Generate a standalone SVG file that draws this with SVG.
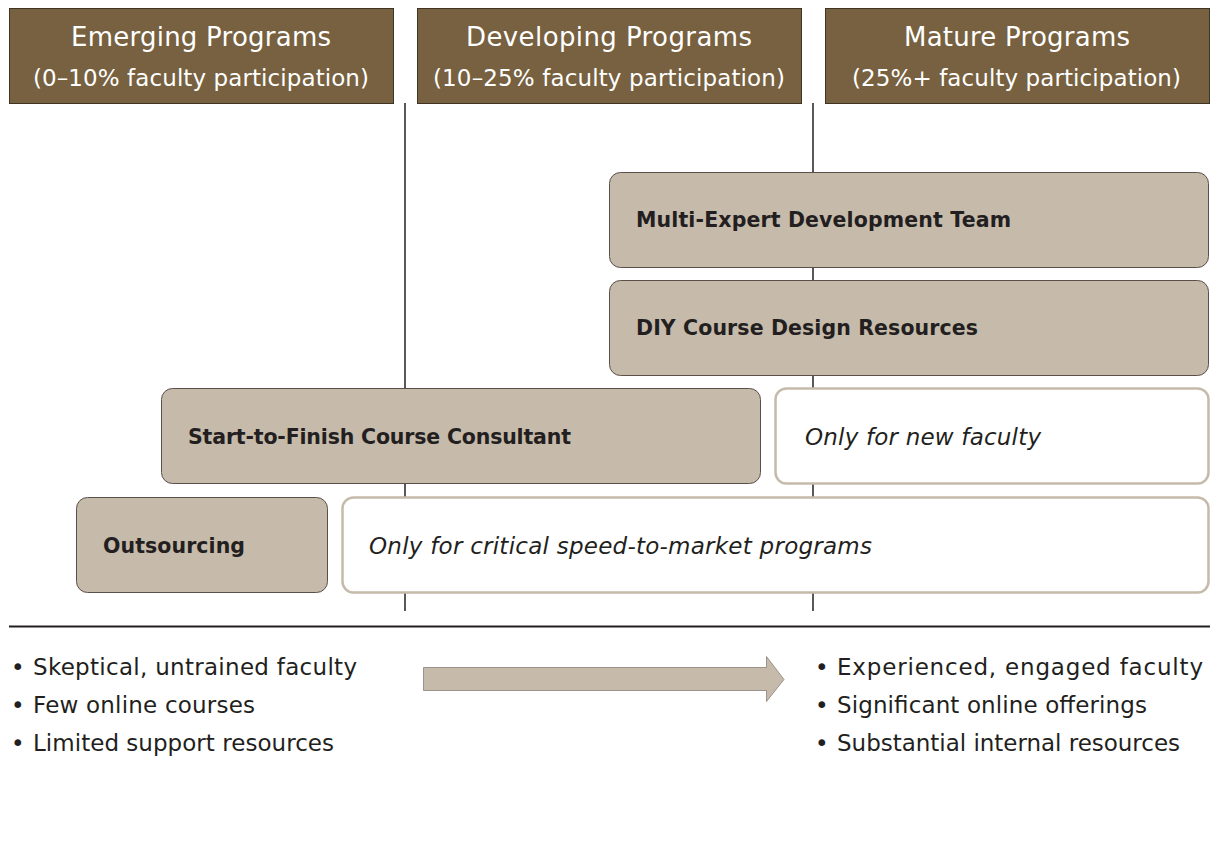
<svg xmlns="http://www.w3.org/2000/svg" width="1212" height="850" viewBox="0 0 1212 850">
<style>
.hdr{fill:#776140;stroke:#3f3322;stroke-width:1}
.ht{font-family:"DejaVu Sans",sans-serif;fill:#fff}
.t1{font-size:26px}
.t2{font-size:23px}
.node{fill:#c6baab;stroke:#5a5048;stroke-width:1}
.note{fill:#fff;stroke:#c6baab;stroke-width:2.5}
.nt{font-family:"DejaVu Sans",sans-serif;font-size:20.5px;font-weight:bold;fill:#231f20}
.it{font-family:"DejaVu Sans",sans-serif;font-size:23px;font-style:italic;fill:#231f20}
.bl{font-family:"DejaVu Sans",sans-serif;font-size:23px;fill:#231f20}
.vl{stroke:#231f20;stroke-width:1.5}
</style>
<rect width="1212" height="850" fill="#fff"/>
<g id="connectors">
<line class="vl" x1="405" y1="103" x2="405" y2="611"/>
<line class="vl" x1="813" y1="103" x2="813" y2="611"/>
<line x1="9" y1="626.5" x2="1210" y2="626.5" stroke="#231f20" stroke-width="2"/>
<path d="M423.5 667.5 H766.5 V656.5 L784 679.5 L766.5 701.5 V690.5 H423.5 Z" fill="#c6baab" stroke="#8a8078" stroke-width="0.8"/>
</g>
<g id="h-emerging">
<rect class="hdr" x="9.5" y="8.5" width="384" height="95"/>
<text class="ht t1" x="71" y="46" textLength="260" lengthAdjust="spacing">Emerging Programs</text>
<text class="ht t2" x="33" y="86" textLength="336" lengthAdjust="spacing">(0–10% faculty participation)</text>
</g>
<g id="h-developing">
<rect class="hdr" x="417.5" y="8.5" width="384" height="95"/>
<text class="ht t1" x="466" y="46" textLength="286" lengthAdjust="spacing">Developing Programs</text>
<text class="ht t2" x="433" y="86" textLength="352" lengthAdjust="spacing">(10–25% faculty participation)</text>
</g>
<g id="h-mature">
<rect class="hdr" x="825.5" y="8.5" width="384" height="95"/>
<text class="ht t1" x="904" y="46" textLength="226" lengthAdjust="spacing">Mature Programs</text>
<text class="ht t2" x="852" y="86" textLength="329" lengthAdjust="spacing">(25%+ faculty participation)</text>
</g>
<g id="n-multi">
<rect class="node" x="609.5" y="172.5" width="599" height="95" rx="11"/>
<text class="nt" x="636" y="227" textLength="375" lengthAdjust="spacing">Multi-Expert Development Team</text>
</g>
<g id="n-diy">
<rect class="node" x="609.5" y="280.5" width="599" height="95" rx="11"/>
<text class="nt" x="636" y="335" textLength="342" lengthAdjust="spacing">DIY Course Design Resources</text>
</g>
<g id="n-start">
<rect class="node" x="161.5" y="388.5" width="599" height="95" rx="11"/>
<text class="nt" x="188" y="444" textLength="383" lengthAdjust="spacing">Start-to-Finish Course Consultant</text>
</g>
<g id="n-newfac">
<rect class="note" x="775.5" y="388.5" width="433" height="95" rx="11"/>
<text class="it" x="805" y="445" textLength="236" lengthAdjust="spacing">Only for new faculty</text>
</g>
<g id="n-outsourcing">
<rect class="node" x="76.5" y="497.5" width="251" height="95" rx="11"/>
<text class="nt" x="103" y="553" textLength="142" lengthAdjust="spacing">Outsourcing</text>
</g>
<g id="n-critical">
<rect class="note" x="342.5" y="497.5" width="866" height="95" rx="11"/>
<text class="it" x="369" y="554" textLength="503" lengthAdjust="spacing">Only for critical speed-to-market programs</text>
</g>
<g id="bullets-left">
<text class="bl" x="11" y="675">•</text>
<text class="bl" x="33" y="675" textLength="324" lengthAdjust="spacing">Skeptical, untrained faculty</text>
<text class="bl" x="11" y="713">•</text>
<text class="bl" x="33" y="713" textLength="222" lengthAdjust="spacing">Few online courses</text>
<text class="bl" x="11" y="751">•</text>
<text class="bl" x="33" y="751" textLength="301" lengthAdjust="spacing">Limited support resources</text>
</g>
<g id="bullets-right">
<text class="bl" x="815" y="675">•</text>
<text class="bl" x="837" y="675" textLength="366" lengthAdjust="spacing">Experienced, engaged faculty</text>
<text class="bl" x="815" y="713">•</text>
<text class="bl" x="837" y="713" textLength="310" lengthAdjust="spacing">Significant online offerings</text>
<text class="bl" x="815" y="751">•</text>
<text class="bl" x="837" y="751" textLength="343" lengthAdjust="spacing">Substantial internal resources</text>
</g>
</svg>
